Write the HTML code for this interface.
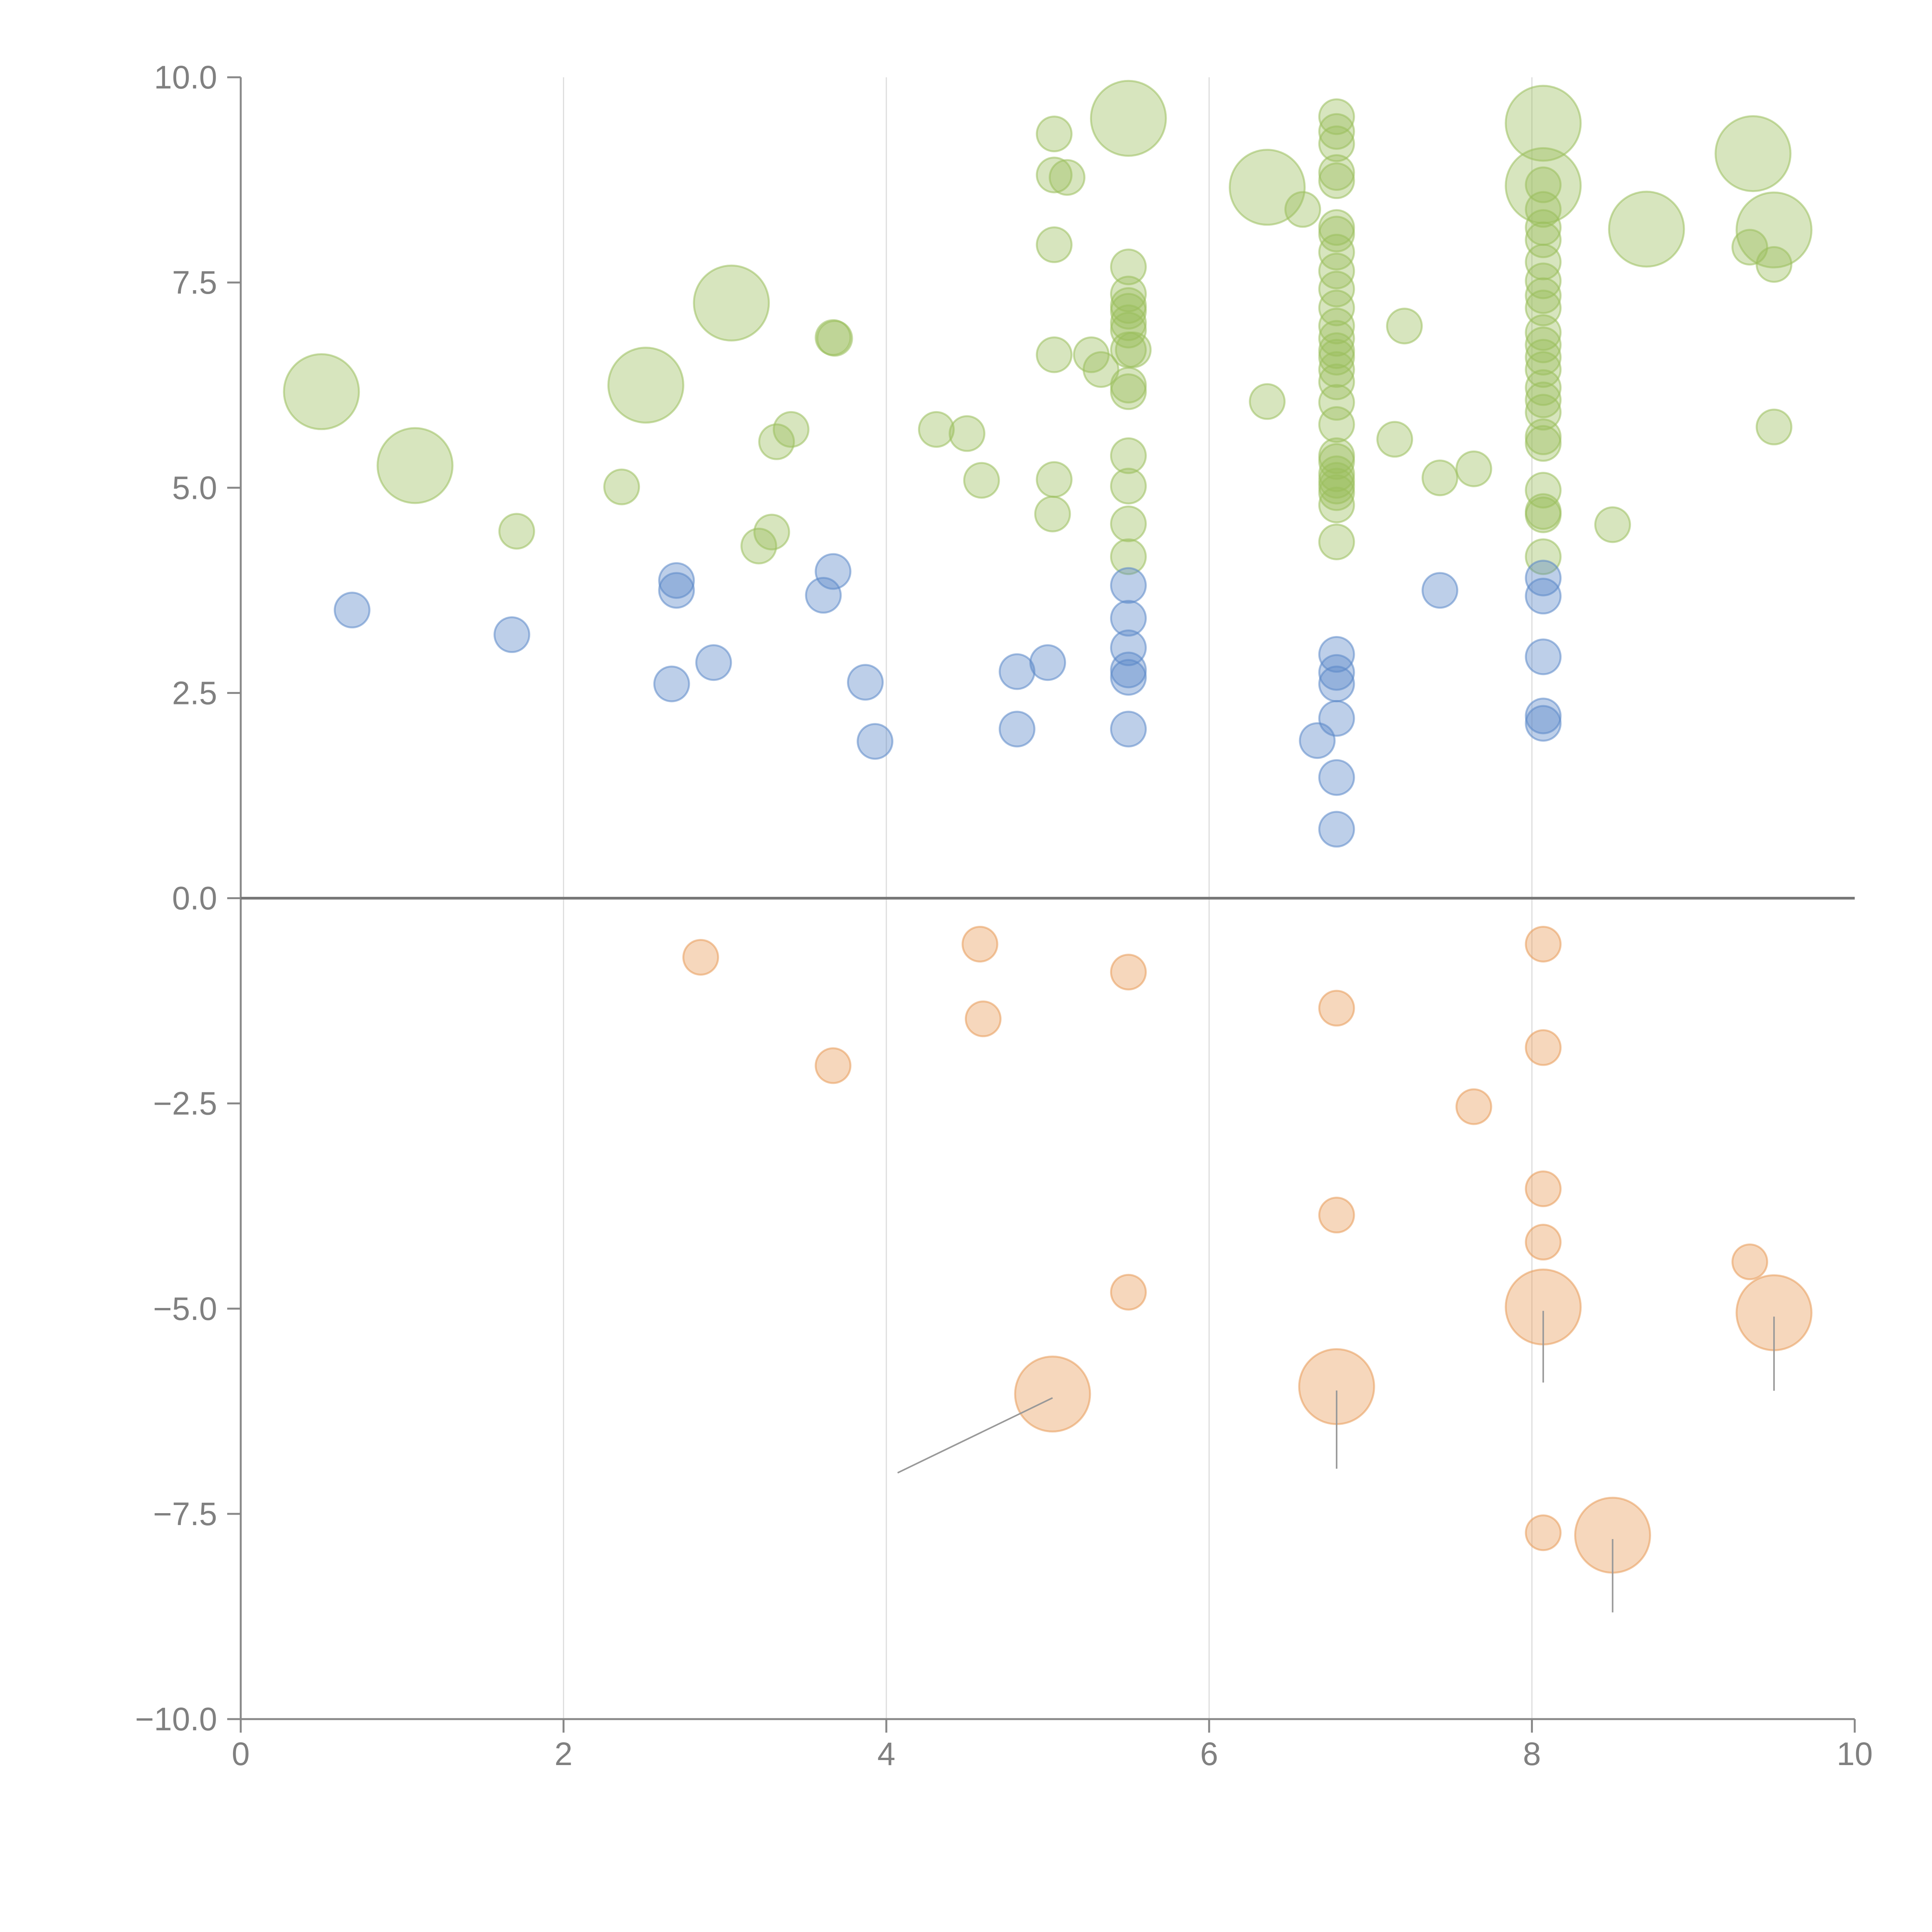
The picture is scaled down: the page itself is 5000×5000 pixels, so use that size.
<!DOCTYPE html>
<html><head><meta charset="utf-8"><style>
html,body{margin:0;padding:0;background:#fff}
svg{display:block}
text{font-family:"Liberation Sans",Arial,sans-serif;fill:#808080;font-size:84px}
</style></head><body>
<svg id="chart" width="5000" height="5000" viewBox="0 0 5000 5000" xmlns="http://www.w3.org/2000/svg">
<g id="grid"></g>
<g id="axes"></g>
<g id="marks"></g>
</svg>
<script>
const xTicks=[0,2,4,6,8,10];
const yTicks=[-10,-7.5,-5,-2.5,0,2.5,5,7.5,10];
const yTickLabels=["\u221210.0","\u22127.5","\u22125.0","\u22122.5","0.0","2.5","5.0","7.5","10.0"];
// green small
const greenX=[1.71,2.36,3.21,3.29,3.32,3.41,3.67,3.68,4.31,4.5,4.59,5.04,5.04,5.12,5.04,5.04,5.27,5.33,5.04,5.03,
5.5,5.5,5.5,5.5,5.5,5.5,5.5,5.5,5.5,5.5,5.5,5.5,5.5,5.53,6.36,6.58,
6.79,6.79,6.79,6.79,6.79,6.79,6.79,6.79,6.79,6.79,6.79,6.79,6.79,6.79,6.79,6.79,6.79,6.79,6.79,6.79,6.79,6.79,6.79,6.79,6.79,6.79,6.79,
7.21,7.15,7.43,7.64,
8.07,8.07,8.07,8.07,8.07,8.07,8.07,8.07,8.07,8.07,8.07,8.07,8.07,8.07,8.07,8.07,8.07,8.07,8.07,8.07,8.07,
8.5,9.35,9.5,9.5];
const greenY=[4.47,5.01,4.29,4.46,5.56,5.71,6.83,6.82,5.71,5.66,5.09,9.31,8.81,8.78,7.96,6.62,6.62,6.44,5.1,4.68,
7.69,7.36,7.22,7.15,7.01,6.92,6.68,6.25,6.17,5.39,5.02,4.56,4.16,6.68,6.05,8.39,
9.52,9.34,9.19,8.84,8.74,8.17,8.09,7.87,7.64,7.42,7.19,6.97,6.82,6.67,6.59,6.44,6.29,6.04,5.77,5.39,5.32,5.17,5.09,5.02,4.94,4.79,4.34,
6.97,5.59,5.12,5.23,
8.69,8.39,8.17,8.02,7.75,7.52,7.34,7.19,6.89,6.74,6.59,6.44,6.22,6.07,5.92,5.62,5.54,4.97,4.71,4.67,4.16,
4.55,7.93,7.72,5.74];
const greenBigX=[0.5,1.08,2.51,3.04,5.5,6.36,8.07,8.07,8.71,9.37,9.5];
const greenBigY=[6.17,5.27,6.25,7.25,9.5,8.66,9.44,8.68,8.15,9.07,8.14];
const blueX=[0.69,1.68,2.7,2.7,2.67,2.93,3.61,3.67,3.87,3.93,4.81,5.0,4.81,
5.5,5.5,5.5,5.5,5.5,5.5,6.79,6.79,6.79,6.79,6.79,6.79,6.67,7.43,8.07,8.07,8.07,8.07,8.07];
const blueY=[3.51,3.21,3.87,3.75,2.61,2.87,3.69,3.98,2.63,1.91,2.76,2.87,2.06,
3.81,3.41,3.05,2.78,2.69,2.06,2.97,2.75,2.61,2.19,1.47,0.84,1.92,3.75,3.9,3.68,2.94,2.22,2.13];
const orangeX=[2.85,3.67,4.58,4.6,5.5,5.5,6.79,6.79,7.64,8.07,8.07,8.07,8.07,8.07,9.35];
const orangeY=[-0.72,-2.04,-0.56,-1.47,-0.9,-4.8,-1.34,-3.86,-2.54,-0.56,-1.82,-3.54,-4.19,-7.73,-4.43];
const orangeBigX=[5.03,6.79,8.07,9.5,8.5];
const orangeBigY=[-6.04,-5.95,-4.98,-5.05,-7.76];
const leaderEndX=[4.07,6.79,8.07,9.5,8.5];
const leaderEndY=[-7.0,-6.95,-5.9,-6.0,-8.7];

const X0=623,X1=4800,Y0=4449,Y1=200;
const sx=v=>X0+(v-0)/(10-0)*(X1-X0);
const sy=v=>Y0-(v+10)/20*(Y0-Y1);
const NS="http://www.w3.org/2000/svg";
function mk(tag,parent,attrs){const e=document.createElementNS(NS,tag);for(const k in attrs)e.setAttribute(k,attrs[k]);parent.appendChild(e);return e;}
const grid=document.getElementById('grid'),axes=document.getElementById('axes'),marks=document.getElementById('marks');

xTicks.forEach(t=>{
 if(t>0&&t<10){const g=mk('line',grid,{x1:sx(t),x2:sx(t),y1:Y1,y2:Y0,stroke:'#dddddd','stroke-width':3});
 
 }
 const tk=mk('line',axes,{x1:sx(t),x2:sx(t),y1:Y0,y2:Y0+35,stroke:'#888','stroke-width':5});
 
 
 const lb=mk('text',axes,{x:sx(t),y:4568,'text-anchor':'middle'});lb.textContent=String(t);
 
 
});
yTicks.forEach((t,i)=>{
 const tk=mk('line',axes,{x1:X0-35,x2:X0,y1:sy(t),y2:sy(t),stroke:'#888','stroke-width':5});
 
 
 const lb=mk('text',axes,{x:562,y:sy(t)+29,'text-anchor':'end'});lb.textContent=yTickLabels[i];
 
 
});
const ya=mk('line',axes,{x1:X0,x2:X0,y1:Y1,y2:Y0,stroke:'#888','stroke-width':5});


const xa=mk('line',axes,{x1:X0,x2:X1,y1:Y0,y2:Y0,stroke:'#888','stroke-width':5});


const zl=mk('line',axes,{x1:X0,x2:X1,y1:sy(0),y2:sy(0),stroke:'#777','stroke-width':7});



function series(xs,ys,r,color,name){
 xs.forEach((x,i)=>{
  const c=mk('circle',marks,{cx:sx(x),cy:sy(ys[i]),r:r,fill:color,'fill-opacity':0.4,stroke:color,'stroke-opacity':0.55,'stroke-width':5});
  
  
 });
}
series(greenX,greenY,45,'#9bbf5c','green-point');
series(greenBigX,greenBigY,97,'#9bbf5c','green-big-point');
series(blueX,blueY,45,'#5b88c8','blue-point');
series(orangeX,orangeY,45,'#e89a58','orange-point');
series(orangeBigX,orangeBigY,97,'#e89a58','orange-big-point');
orangeBigX.forEach((x,i)=>{
 const l=mk('line',marks,{x1:sx(x),y1:sy(orangeBigY[i])+10,x2:sx(leaderEndX[i]),y2:sy(leaderEndY[i]),stroke:'#999','stroke-width':4});
 
 
});
</script>
</body></html>
